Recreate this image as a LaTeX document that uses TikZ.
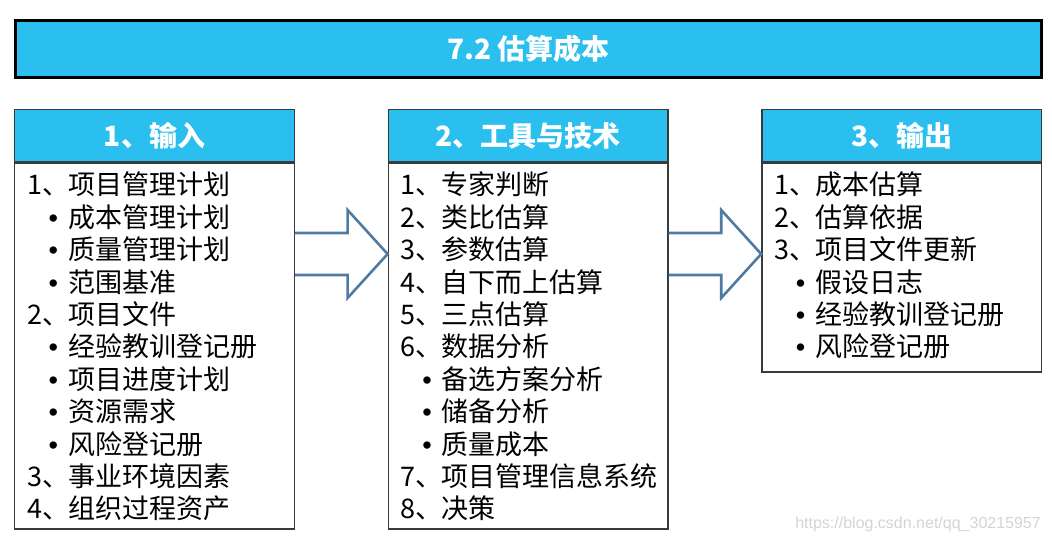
\documentclass[tikz,border=0pt]{standalone}
\usepackage{fontspec}
\setmainfont{Noto Sans CJK SC}
\newfontfamily\wmfont{Liberation Sans}
\usetikzlibrary{positioning,calc}
\definecolor{cHead}{HTML}{2BBFF0}
\definecolor{cLine}{HTML}{3A3A3A}
\definecolor{cArrow}{HTML}{4F7BA3}
\definecolor{cMark}{HTML}{D4D4D4}
\tikzset{
  blk/.style={draw=cLine, line width=1.4pt, inner sep=0pt, minimum width=279.6pt},
  ttl/.style={draw=black, line width=3pt, fill=cHead, minimum width=1026pt,
              minimum height=57pt, text=white, font=\fontsize{28}{32}\selectfont\bfseries},
  hdr/.style={blk, fill=cHead, minimum height=52pt, text=white,
              font=\fontsize{28}{32}\selectfont\bfseries},
  bodyb/.style={blk, fill=white},
  lst/.style={inner sep=0pt, align=left, anchor=north west,
              font=\fontsize{27}{32.4}\selectfont},
  blockar/.style={draw=cArrow, line width=2.6pt, line join=miter},
  wmk/.style={inner sep=0pt, text=cMark, font=\wmfont\fontsize{16}{18}\selectfont},
}
\newcommand{\num}[2]{\makebox[41pt][l]{#1、}#2}
\newcommand{\bul}[1]{\makebox[41pt][r]{\wmfont•\hspace{10pt}}#1}
\newcommand{\bigarrow}[2]{%
  \draw[blockar] (#1.east |- 0,233) -- ($(#2.west |- 0,233)+(-40,0)$)
    -- ($(#2.west |- 0,210)+(-40,0)$) -- (#2.west |- 0,254)
    -- ($(#2.west |- 0,298)+(-40,0)$) -- ($(#2.west |- 0,275)+(-40,0)$)
    -- (#1.east |- 0,275);}
\begin{document}
\begin{tikzpicture}[x=1pt, y=-1pt]
  \useasboundingbox (0,0) rectangle (1052,540);
  \node[ttl, anchor=north west] (title) at (14,19) {7.2 估算成本};
  % three columns
  \node[hdr, anchor=north west] (hin) at (14,109) {1、输入};
  \node[hdr, right=92.6pt of hin] (htool) {2、工具与技术};
  \node[hdr, right=92.6pt of htool] (hout) {3、输出};
  \node[bodyb, minimum height=366pt, below=0pt of hin] (bin) {};
  \node[bodyb, minimum height=366pt, below=0pt of htool] (btool) {};
  \node[bodyb, minimum height=209pt, below=0pt of hout] (bout) {};
  \node[lst] (lin) at ($(bin.north west)+(13,9.5)$)
    {\num{1}{项目管理计划}\\ \bul{成本管理计划}\\ \bul{质量管理计划}\\ \bul{范围基准}\\
     \num{2}{项目文件}\\ \bul{经验教训登记册}\\ \bul{项目进度计划}\\ \bul{资源需求}\\
     \bul{风险登记册}\\ \num{3}{事业环境因素}\\ \num{4}{组织过程资产}};
  \node[lst] (ltool) at ($(btool.north west)+(13,9.5)$)
    {\num{1}{专家判断}\\ \num{2}{类比估算}\\ \num{3}{参数估算}\\ \num{4}{自下而上估算}\\
     \num{5}{三点估算}\\ \num{6}{数据分析}\\ \bul{备选方案分析}\\ \bul{储备分析}\\
     \bul{质量成本}\\ \num{7}{项目管理信息系统}\\ \num{8}{决策}};
  \node[lst] (lout) at ($(bout.north west)+(13,9.5)$)
    {\num{1}{成本估算}\\ \num{2}{估算依据}\\ \num{3}{项目文件更新}\\
     \bul{假设日志}\\ \bul{经验教训登记册}\\ \bul{风险登记册}};
  % flow arrows
  \bigarrow{bin}{btool}
  \bigarrow{btool}{bout}
  \node[wmk, anchor=base east] (wm) at (1041,528) {https://blog.csdn.net/qq\_30215957};
\end{tikzpicture}
\end{document}
